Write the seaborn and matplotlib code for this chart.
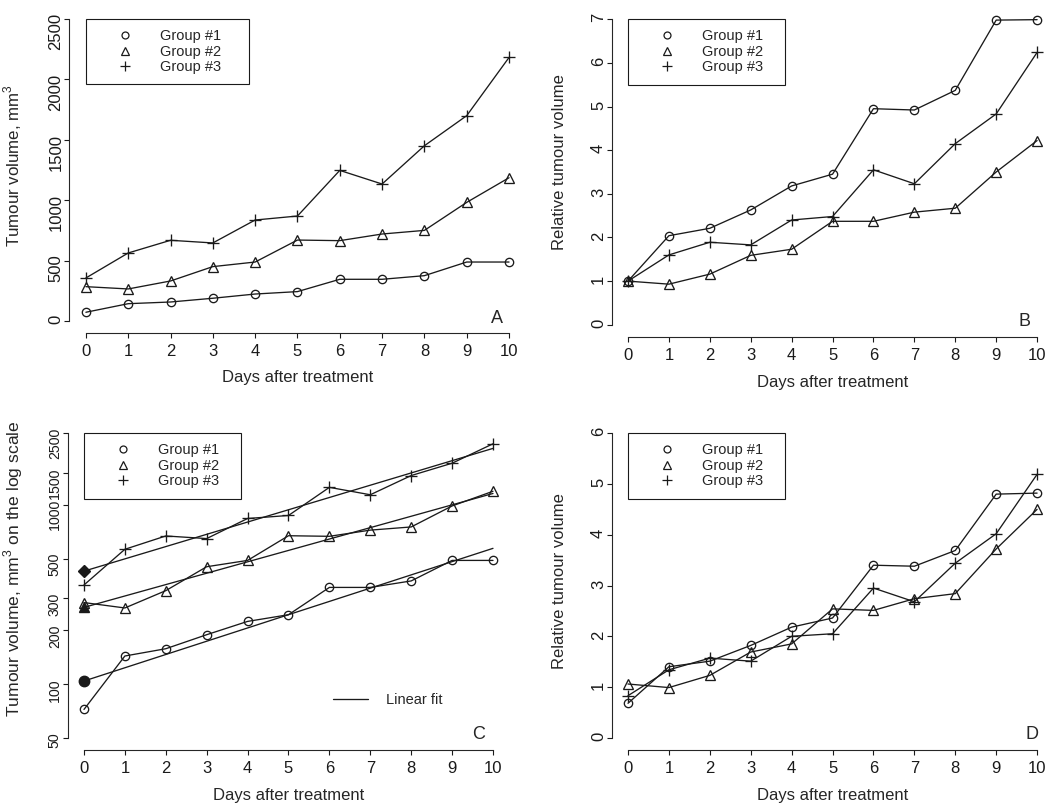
"""
Tumour growth curves, 4 panels (R base graphics look)
"""

import numpy as np
import pandas as pd
import matplotlib
matplotlib.use("Agg")
import matplotlib.pyplot as plt
import seaborn as sns
from matplotlib.lines import Line2D

sns.set_theme(style="ticks")
plt.rcParams["font.family"] = ["Liberation Sans", "DejaVu Sans"]
plt.rcParams["mathtext.fontset"] = "custom"
plt.rcParams["mathtext.rm"] = "Liberation Sans"
plt.rcParams["axes.linewidth"] = 0.8


# DATA

days = np.arange(0, 11)
groups = ["Group #1", "Group #2", "Group #3"]

# tumour volume, mm3 (panels A and C)
vol_g1 = [72, 143, 157, 188, 223, 243, 345, 345, 375, 488, 488]
vol_g2 = [284, 265, 331, 450, 488, 670, 665, 720, 750, 982, 1186]
vol_g3 = [356, 563, 668, 646, 836, 869, 1247, 1134, 1451, 1700, 2182]

# relative tumour volume vs day 0 (panel B)
rel_g1 = [1.0, 2.04, 2.21, 2.63, 3.18, 3.45, 4.95, 4.92, 5.37, 6.98, 6.99]
rel_g2 = [1.0, 0.93, 1.16, 1.59, 1.73, 2.37, 2.37, 2.58, 2.67, 3.50, 4.22]
rel_g3 = [1.0, 1.60, 1.89, 1.83, 2.40, 2.48, 3.55, 3.23, 4.15, 4.83, 6.24]

# relative tumour volume vs fitted day-0 value (panel D)
fitrel_g1 = [0.68, 1.40, 1.51, 1.82, 2.18, 2.36, 3.40, 3.38, 3.69, 4.80, 4.82]
fitrel_g2 = [1.06, 0.99, 1.23, 1.69, 1.85, 2.54, 2.51, 2.74, 2.84, 3.72, 4.50]
fitrel_g3 = [0.83, 1.34, 1.57, 1.51, 2.00, 2.05, 2.95, 2.68, 3.44, 4.02, 5.19]

log_ticks = [50, 100, 200, 300, 500, 1000, 1500, 2500]

vol = [vol_g1, vol_g2, vol_g3]
rel = [rel_g1, rel_g2, rel_g3]
fitrel = [fitrel_g1, fitrel_g2, fitrel_g3]

markers = ["o", "^", "+"]
msizes = [6, 6.5, 8]
legend_msizes = [5, 5.5, 7]
filled = ["o", "^", "D"]
fsizes = [7.5, 7.5, 6]


# HELPERS

def draw_groups(ax, series):
    for y, m, ms in zip(series, markers, msizes):
        sns.lineplot(x=days, y=y, ax=ax, color="k", lw=0.95, marker=m, ms=ms,
                     mfc="none", mec="k", mew=0.95)


def r_axes(ax, ylim, ybounds, yticks):
    ax.set_xlim(-0.4, 10.4)
    ax.set_ylim(*ylim)
    ax.set_xticks(days)
    ax.set_yticks(yticks)
    sns.despine(ax=ax)
    ax.spines["bottom"].set_bounds(0, 10)
    ax.spines["left"].set_bounds(*ybounds)
    ax.tick_params(length=3.6, width=0.8, labelsize=12, colors="k")
    ax.tick_params(axis="x", pad=4)
    ax.tick_params(axis="y", pad=0.5, labelrotation=90)
    ax.set_xlabel("Days after treatment", fontsize=12, va="center")
    ax.xaxis.set_label_coords(0.5, -0.137)


def group_legend(ax, ytop):
    handles = [Line2D([], [], color="k", marker=m, ls="none", ms=ms,
                      mfc="none", mew=0.9)
               for m, ms in zip(markers, legend_msizes)]
    leg = ax.legend(handles, groups, loc="upper left",
                    bbox_to_anchor=(0, ytop, 3.85, 0), bbox_transform=ax.transData,
                    mode="expand", borderaxespad=0, fontsize=10.5,
                    frameon=True, fancybox=False, framealpha=1, edgecolor="k",
                    borderpad=0.7, labelspacing=0.1, handlelength=3.9,
                    handletextpad=0.45)
    leg.get_frame().set_linewidth(0.8)
    return leg


def panel_letter(ax, letter, x):
    ax.text(x, 0.02, letter, transform=ax.transAxes, ha="right", va="bottom",
            fontsize=13)


fig = plt.figure(figsize=(10.5, 8.05), dpi=100)
axA = fig.add_axes([0.0657, 0.5863, 0.4352, 0.4050])
axB = fig.add_axes([0.5825, 0.5814, 0.4208, 0.4099])
axC = fig.add_axes([0.0644, 0.0683, 0.4207, 0.4087])
axD = fig.add_axes([0.5825, 0.0683, 0.4208, 0.4087])

# A: absolute volume
draw_groups(axA, vol)
r_axes(axA, (-100, 2600), (0, 2500), [0, 500, 1000, 1500, 2000, 2500])
axA.set_ylabel("Tumour volume, mm$^\\mathregular{3}$", fontsize=12.2, va="center")
axA.yaxis.set_label_coords(-0.123, 0.515)
group_legend(axA, 2500)
panel_letter(axA, "A", 0.95)

# B: relative to day 0
draw_groups(axB, rel)
r_axes(axB, (-0.28, 7.28), (0, 7), range(0, 8))
axB.set_ylabel("Relative tumour volume", fontsize=12, va="center")
axB.yaxis.set_label_coords(-0.118, 0.529)
group_legend(axB, 7)
panel_letter(axB, "B", 0.947)

# C: log scale with linear fits of log(volume) on day
axC.set_yscale("log")
draw_groups(axC, vol)
for y, m, fs in zip(vol, filled, fsizes):
    slope, icpt = np.polyfit(days, np.log(y), 1)
    fitted = np.exp(icpt + slope * days)
    sns.lineplot(x=days, y=fitted, ax=axC, color="k", lw=0.95)
    axC.plot([0], [np.exp(icpt)], marker=m, ms=fs, color="k", ls="none")
r_axes(axC, (42.76, 2923), (50, 2500), log_ticks)
axC.yaxis.set_minor_locator(matplotlib.ticker.NullLocator())
axC.set_yticklabels([str(t) for t in log_ticks])
axC.tick_params(axis="y", labelsize=10.2)
axC.set_ylabel("Tumour volume, mm$^\\mathregular{3}$ on the log scale",
               fontsize=12.6, va="center")
axC.yaxis.set_label_coords(-0.124, 0.55)
leg = group_legend(axC, 2500)
fit_leg = axC.legend([Line2D([], [], color="k", lw=0.95)], ["Linear fit"],
                     loc="center left", bbox_to_anchor=(6.09, 81.5),
                     bbox_transform=axC.transData, borderaxespad=0, borderpad=0,
                     frameon=False, fontsize=10.5, handlelength=2.4,
                     handletextpad=1.2)
axC.add_artist(leg)
panel_letter(axC, "C", 0.945)

# D: relative to fitted day-0 volume
draw_groups(axD, fitrel)
r_axes(axD, (-0.24, 6.24), (0, 6), range(0, 7))
axD.set_ylabel("Relative tumour volume", fontsize=12, va="center")
axD.yaxis.set_label_coords(-0.118, 0.514)
group_legend(axD, 6)
panel_letter(axD, "D", 0.965)

plt.savefig("out.png", dpi=100, facecolor="white")
